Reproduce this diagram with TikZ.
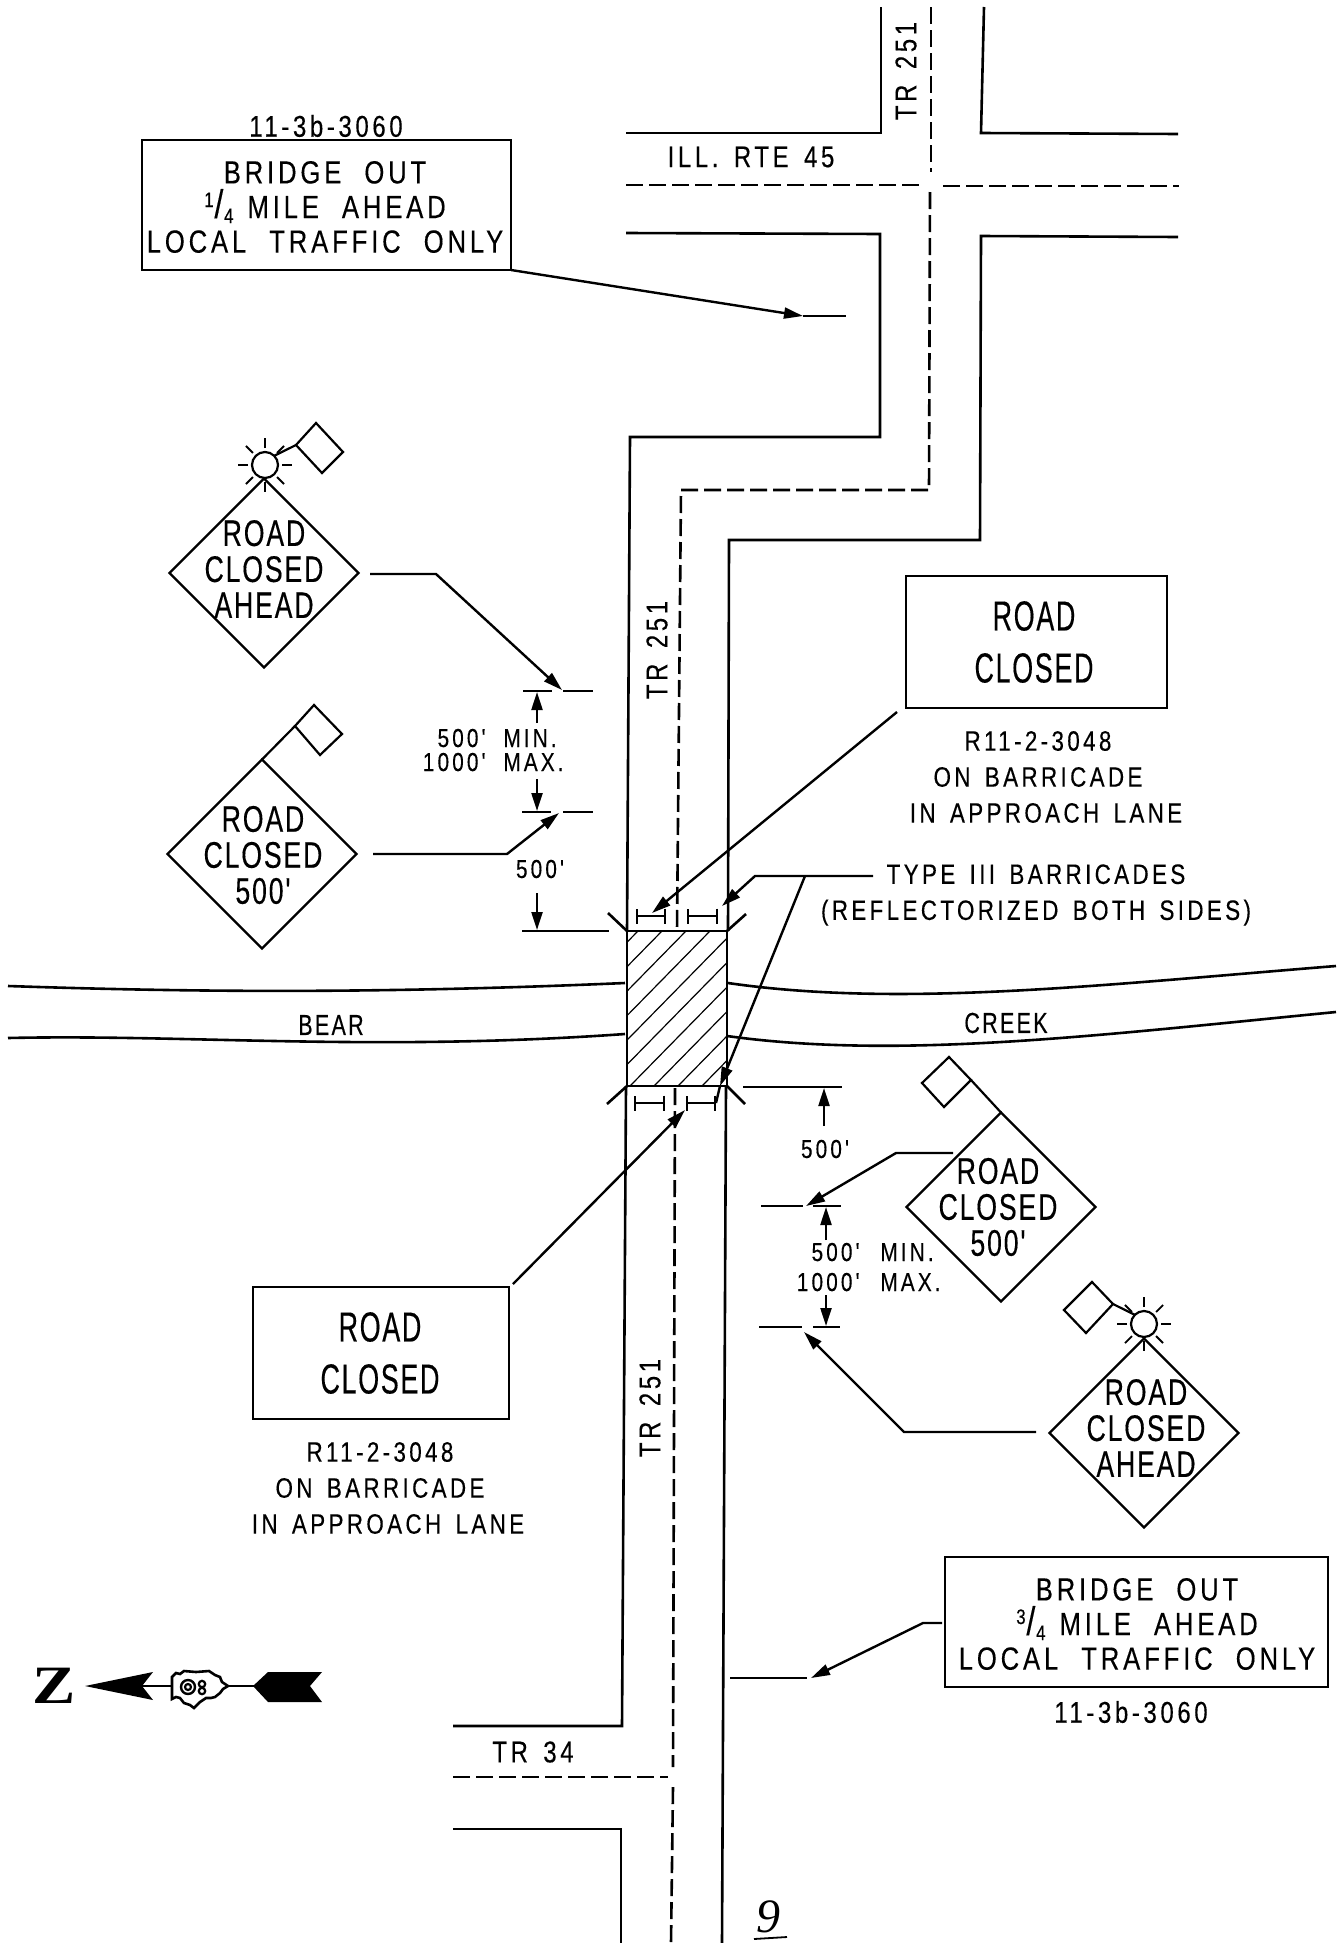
\documentclass[tikz,border=0pt]{standalone}
\usepackage{fontspec}
\usetikzlibrary{arrows.meta,shapes.geometric}
\setmainfont{Liberation Sans}
\newfontfamily\cad[FakeStretch=.8,LetterSpace=12,WordSpace=1.5,FakeBold=.3]{Liberation Sans}
\newfontfamily\cadw[FakeStretch=.802,LetterSpace=12,WordSpace=2.1,FakeBold=.3]{Liberation Sans}
\newfontfamily\cadn[FakeStretch=.74,LetterSpace=8,WordSpace=1.5,FakeBold=.3]{Liberation Sans}
\newfontfamily\cads[FakeStretch=.72,LetterSpace=5,FakeBold=.3]{Liberation Sans}
\newfontfamily\cadb[FakeStretch=.64,LetterSpace=4,FakeBold=.3]{Liberation Sans}
\newfontfamily\hand{Liberation Serif}
\newfontfamily\slab[FakeStretch=1.2]{Liberation Serif}
\newcommand\frc[2]{\raisebox{5.5pt}{\fontsize{10.5}{10.5}\selectfont #1}\kern.4pt{\fontsize{20}{17}\selectfont /}\kern.4pt\raisebox{-2.5pt}{\fontsize{10.5}{10.5}\selectfont #2}\kern7pt}
\tikzset{
  road/.style={line width=1.3pt,line join=miter},
  center line/.style={line width=1.3pt,dash pattern=on 8.5pt off 3pt},
  hatch/.style={line width=.6pt},
  leader/.style={line width=1.2pt,-{Stealth[inset=0pt,length=9.5pt,width=5.5pt]}},
  leadplain/.style={line width=1.2pt},
  dimline/.style={line width=1.1pt,-{Stealth[inset=0pt,length=9pt,width=5.5pt]}},
  barr/.style={line width=1.2pt,{Bar[width=7.5pt]}-{Bar[width=7.5pt]}},
  signd/.style={draw,line width=1.1pt,shape=diamond,shape aspect=1,inner sep=0pt,outer sep=0pt,minimum width=94.5pt,minimum height=94.5pt},
  flagd/.style={draw,line width=1.1pt},
  signt/.style={font=\cads\fontsize{18.5}{18}\selectfont,align=center,inner sep=0pt},
  boxs/.style={draw,line width=1.2pt,inner sep=0pt,outer sep=0pt,anchor=north west},
  big/.style={font=\cadb\fontsize{21}{26}\selectfont,align=center,inner sep=0pt},
  boxt/.style={font=\cadw\fontsize{16}{17.3}\selectfont,align=center,inner sep=0pt},
  lab/.style={font=\cad\fontsize{14}{18}\selectfont,align=center,inner sep=0pt},
  roadlab/.style={font=\cad\fontsize{15}{18}\selectfont,align=center,inner sep=0pt},
  water/.style={font=\cadn\fontsize{14.5}{18}\selectfont,align=center,inner sep=0pt},
  dimt/.style={font=\cad\fontsize{13}{12}\selectfont,inner sep=0pt},
  sunc/.style={draw,circle,line width=1.1pt,fill=white,inner sep=0pt,outer sep=0pt,minimum size=13pt},
  ray/.style={line width=.9pt}
}
\begin{document}
\begin{tikzpicture}[x=.5pt,y=-.5pt]
\useasboundingbox (0,0) rectangle (1343,1943);
\fill[white] (0,0) rectangle (1343,1943);

% ---- roads
\draw[road] (626,133) -- (881,133) -- (881,7);
\draw[road] (984,7) -- (981,133) -- (1178,134);
\draw[road] (626,233) -- (880,234) -- (880,437) -- (630,437) -- (627,931);
\draw[road] (1178,237) -- (981,236) -- (980,540) -- (729,540) -- (728,931);
\draw[road] (626,1086) -- (622,1726) -- (453,1726);
\draw[road] (453,1829) -- (621,1829) -- (621,1943);
\draw[road] (726,1086) -- (722,1943);
% ---- centre lines
\draw[center line] (931,7) -- (931,172);
\draw[center line] (930,192) -- (929,490) -- (681,490) -- (677,931);
\draw[center line] (626,185) -- (922,185);
\draw[center line] (943,186) -- (1179,186);
\draw[center line] (675,1088) -- (673,1767);
\draw[center line] (673,1787) -- (671,1943);
\draw[center line] (453,1777) -- (668,1777);
% ---- creek
\draw[road] (8,986) .. controls (186,992) and (372,994) .. (625,983);
\draw[road] (8,1038) .. controls (186,1034) and (372,1052) .. (625,1034);
\draw[road] (728,983) .. controls (900,1008) and (1100,985) .. (1336,966);
\draw[road] (727,1036) .. controls (900,1060) and (1100,1035) .. (1336,1012);
% ---- bridge
\node[draw,line width=1.4pt,inner sep=0pt,outer sep=0pt,minimum width=50pt,minimum height=77.5pt,anchor=north west] (bridge) at (627,931) {};
\begin{scope}
\clip (627,931) rectangle (727,1086);
\foreach \k in {0,...,11}{
  \draw[hatch] ({638+24*\k},931) -- ({638+24*\k-152},1086);
}
\end{scope}
\draw[road] (bridge.north west) -- (608,913);
\draw[road] (bridge.north east) -- (746,914);
\draw[road] (bridge.south west) -- (607,1104);
\draw[road] (bridge.south east) -- (745,1104);
% ---- barricades
\coordinate (b1a) at (636,916); \coordinate (b1b) at (666,916);
\coordinate (b2a) at (687,916); \coordinate (b2b) at (718,916);
\coordinate (b3a) at (634,1103); \coordinate (b3b) at (665,1103);
\coordinate (b4a) at (686,1103); \coordinate (b4b) at (716,1103);
\draw[barr] (b1a) -- (b1b);
\draw[barr] (b2a) -- (b2b);
\draw[barr] (b3a) -- (b3b);
\draw[barr] (b4a) -- (b4b);

% ---- boxes
\node[boxs,minimum width=184.5pt,minimum height=65pt] (bo1) at (142,140) {};
\node[boxt] (bo1t) at (325,207) {BRIDGE OUT\\\frc{1}{4} MILE AHEAD\\LOCAL TRAFFIC ONLY};
\node[lab,font=\cad\fontsize{15}{18}\selectfont] (bo1l) at (326,126) {11-3b-3060};
\node[boxs,minimum width=191.5pt,minimum height=65pt] (bo2) at (945,1557) {};
\node[boxt] (bo2t) at (1137,1624) {BRIDGE OUT\\\frc{3}{4} MILE AHEAD\\LOCAL TRAFFIC ONLY};
\node[lab,font=\cad\fontsize{15}{18}\selectfont] (bo2l) at (1131,1712) {11-3b-3060};
\node[boxs,minimum width=130.5pt,minimum height=66pt] (rc1) at (906,576) {};
\node[big] (rc1t) at (1034,642) {ROAD\\CLOSED};
\node[lab] (rc1l) at (1038,777) {R11-2-3048\\ON BARRICADE\\\hspace*{8pt}IN APPROACH LANE};
\node[boxs,minimum width=128pt,minimum height=66pt] (rc2) at (253,1287) {};
\node[big] (rc2t) at (380,1353) {ROAD\\CLOSED};
\node[lab] (rc2l) at (380,1488) {R11-2-3048\\ON BARRICADE\\\hspace*{8pt}IN APPROACH LANE};

% ---- labels
\node[lab] (t3) at (1036,895) {TYPE III BARRICADES\\(REFLECTORIZED BOTH SIDES)};
\node[water] (bear) at (331,1025) {BEAR};
\node[water] (creek) at (1006,1023) {CREEK};
\node[roadlab] (ill) at (751,157) {ILL. RTE 45};
\node[roadlab] (tr34) at (533,1752) {TR 34};
\node[roadlab,rotate=90] (tr1) at (906,71) {TR 251};
\node[roadlab,rotate=90] (tr2) at (657,650) {TR 251};
\node[roadlab,rotate=90] (tr3) at (650,1408) {TR 251};
\node[font=\hand\itshape\fontsize{24}{24}\selectfont,inner sep=0pt] (n9) at (768,1917) {9};
\coordinate (n9a) at (754,1939); \coordinate (n9b) at (787,1937);
\draw[line width=.9pt] (n9a) -- (n9b);

% ---- sign 1 (west, ahead)
\node[signd] (d1) at (264,573) {};
\node[signt] (d1t) at (264,569) {ROAD\\CLOSED\\AHEAD};
\draw[flagd] (296,445) -- (316,423) -- (343,452) -- (322,473) -- cycle;
\node[sunc] (s1) at (265,465) {};
\draw[flagd] (s1.north east) -- (296,445);
\foreach \a in {0,45,...,315}{\draw[ray] ([shift={(\a:17)}]s1.center) -- ([shift={(\a:27)}]s1.center);}
% ---- sign 2 (west, 500)
\node[signd] (d2) at (262,854) {};
\node[signt] (d2t) at (263,855) {ROAD\\CLOSED\\500'};
\draw[flagd] (295,726) -- (314,705) -- (342,734) -- (320,755) -- cycle;
\draw[flagd] (d2.north) -- (295,726);
% ---- sign 3 (east, 500)
\node[signd] (d3) at (1001,1207) {};
\node[signt] (d3t) at (998,1207) {ROAD\\CLOSED\\500'};
\draw[flagd] (971,1080) -- (949,1057) -- (922,1083) -- (944,1107) -- cycle;
\draw[flagd] (d3.north) -- (971,1080);
% ---- sign 4 (east, ahead)
\node[signd] (d4) at (1144,1433) {};
\node[signt] (d4t) at (1146,1428) {ROAD\\CLOSED\\AHEAD};
\draw[flagd] (1113,1304) -- (1092,1282) -- (1064,1310) -- (1086,1333) -- cycle;
\node[sunc] (s4) at (1144,1324) {};
\draw[flagd] (s4.north west) -- (1113,1304);
\foreach \a in {0,45,...,315}{\draw[ray] ([shift={(\a:17)}]s4.center) -- ([shift={(\a:27)}]s4.center);}

% ---- leaders
\coordinate (l1s) at (370,574); \coordinate (l1e) at (562,690);
\draw[leader] (l1s) -- (436,574) -- (l1e);
\coordinate (l2s) at (373,854); \coordinate (l2e) at (559,813);
\draw[leader] (l2s) -- (507,854) -- (l2e);
\coordinate (l3s) at (953,1153); \coordinate (l3e) at (806,1206);
\draw[leader] (l3s) -- (896,1153) -- (l3e);
\coordinate (l4s) at (1036,1432); \coordinate (l4e) at (804,1332);
\draw[leader] (l4s) -- (904,1432) -- (l4e);
\coordinate (l5e) at (803,316);
\draw[leader] (bo1.south east) -- (l5e);
\coordinate (l5f) at (846,316);
\draw[leadplain] (l5e) -- (l5f);
\coordinate (l6s) at (942,1623); \coordinate (l6e) at (811,1678);
\draw[leader] (l6s) -- (923,1623) -- (l6e);
\coordinate (l6a) at (730,1678); \coordinate (l6b) at (807,1678);
\draw[leadplain] (l6a) -- (l6b);
\coordinate (l7s) at (897,712); \coordinate (l7e) at (652,913);
\draw[leader] (l7s) -- (l7e);
\coordinate (l8s) at (513,1284); \coordinate (l8e) at (685,1110);
\draw[leader] (l8s) -- (l8e);
\coordinate (l9s) at (873,876); \coordinate (l9e) at (722,906);
\draw[leader] (l9s) -- (755,876) -- (l9e);
\coordinate (l10s) at (805,876); \coordinate (l10e) at (720,1086);
\draw[leader] (l10s) -- (l10e);
\draw[leadplain] (l10e) -- (b4b);

% ---- dimension ticks west
\coordinate (w1a) at (523,691); \coordinate (w1b) at (552,691);
\coordinate (w1c) at (563,691); \coordinate (w1d) at (593,691);
\coordinate (w2a) at (522,812); \coordinate (w2b) at (551,812);
\coordinate (w2c) at (563,812); \coordinate (w2d) at (593,812);
\coordinate (w3a) at (522,931);
\draw[leadplain] (w1a) -- (w1b); \draw[leadplain] (w1c) -- (w1d);
\draw[leadplain] (w2a) -- (w2b); \draw[leadplain] (w2c) -- (w2d);
\draw[leadplain] (w3a) -- (609,931);
\coordinate (wd1) at (537,723); \coordinate (wd1t) at (537,692);
\coordinate (wd2) at (537,779); \coordinate (wd2t) at (537,811);
\coordinate (wd3) at (537,893); \coordinate (wd3t) at (537,930);
\draw[dimline] (wd1) -- (wd1t);
\draw[dimline] (wd2) -- (wd2t);
\draw[dimline] (wd3) -- (wd3t);
\node[dimt,anchor=base east] (wt1) at (486,747) {500'};
\node[dimt,anchor=base west] (wt1b) at (503,747) {MIN.};
\node[dimt,anchor=base east] (wt2) at (486,771) {1000'};
\node[dimt,anchor=base west] (wt2b) at (503,771) {MAX.};
\node[dimt] (wt3) at (540,869) {500'};
% ---- dimension ticks east
\coordinate (e1a) at (743,1087); \coordinate (e1b) at (842,1087);
\coordinate (e2a) at (761,1206); \coordinate (e2b) at (803,1206);
\coordinate (e2c) at (813,1206); \coordinate (e2d) at (841,1206);
\coordinate (e3a) at (759,1327); \coordinate (e3b) at (802,1327);
\coordinate (e3c) at (813,1327); \coordinate (e3d) at (840,1327);
\draw[leadplain] (e1a) -- (e1b);
\draw[leadplain] (e2a) -- (e2b); \draw[leadplain] (e2c) -- (e2d);
\draw[leadplain] (e3a) -- (e3b); \draw[leadplain] (e3c) -- (e3d);
\coordinate (ed1) at (824,1126); \coordinate (ed1t) at (824,1088);
\coordinate (ed2) at (826,1240); \coordinate (ed2t) at (826,1207);
\coordinate (ed3) at (826,1295); \coordinate (ed3t) at (826,1326);
\draw[dimline] (ed1) -- (ed1t);
\draw[dimline] (ed2) -- (ed2t);
\draw[dimline] (ed3) -- (ed3t);
\node[dimt] (et1) at (825,1149) {500'};
\node[dimt,anchor=base east] (et2) at (860,1261) {500'};
\node[dimt,anchor=base west] (et2b) at (880,1261) {MIN.};
\node[dimt,anchor=base east] (et3) at (860,1291) {1000'};
\node[dimt,anchor=base west] (et3b) at (880,1291) {MAX.};

% ---- north arrow
\node[font=\slab\bfseries\fontsize{27}{27}\selectfont,inner sep=0pt] (north) at (54,1686) {Z};
\fill (85,1686) -- (153,1672) -- (142,1686) -- (153,1700) -- cycle;
\coordinate (na) at (142,1686); \coordinate (nb) at (172,1686);
\coordinate (nc) at (228,1686); \coordinate (nd) at (256,1686);
\draw[line width=1.2pt] (na) -- (nb);
\draw[line width=1.2pt] (nc) -- (nd);
\fill (253,1686) -- (268,1672) -- (322,1672) -- (310,1686) -- (322,1702) -- (268,1702) -- cycle;
\draw[line width=1.3pt] (172,1677) -- (176,1673) -- (180,1674) -- (184,1671) -- (196,1672) -- (209,1671) -- (215,1675) -- (220,1677) -- (222,1682) -- (228,1686) -- (223,1689) -- (220,1693) -- (215,1697) -- (211,1698) -- (206,1698) -- (200,1702) -- (194,1708) -- (190,1705) -- (184,1703) -- (180,1698) -- (176,1697) -- (172,1699) -- cycle;
\draw[line width=1.2pt] (188,1687) circle (7);
\draw[line width=1.1pt] (188,1687) circle (3);
\draw[line width=1.1pt] (202,1684) circle (3.2);
\draw[line width=1.1pt] (202,1691) circle (3.2);
\end{tikzpicture}
\end{document}
